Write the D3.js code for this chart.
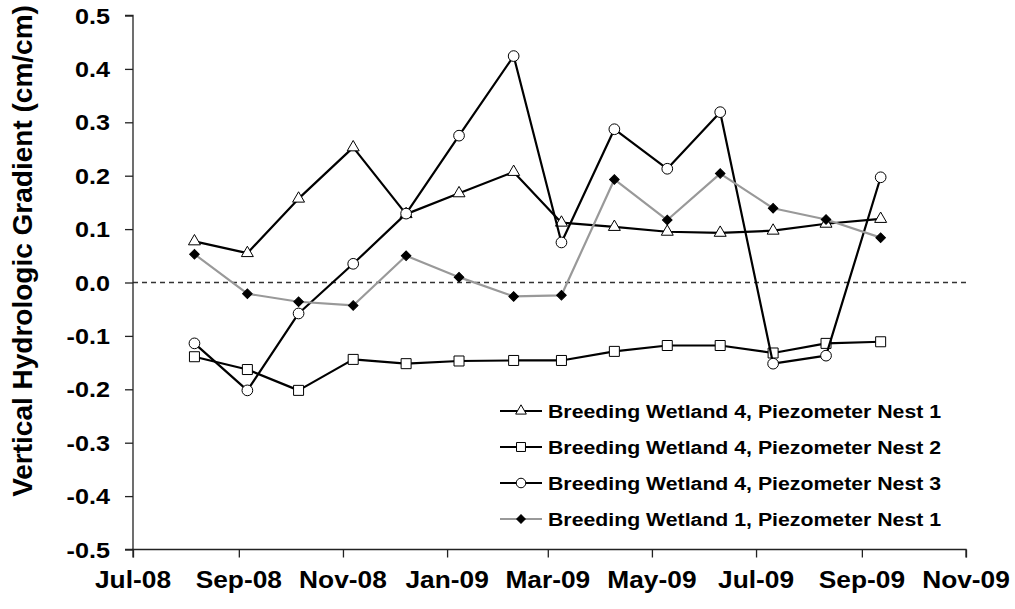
<!DOCTYPE html>
<html>
<head>
<meta charset="utf-8">
<script src="https://cdn.jsdelivr.net/npm/d3@7"></script>
<style>
  html, body { margin: 0; padding: 0; background: #fff; }
  text { font-family: "Liberation Sans", Arial, sans-serif; font-weight: bold; fill: #000; }
</style>
</head>
<body>
<div id="chart"></div>
<script>
// ---- data ----
const dates = ["2008-08-06","2008-09-06","2008-10-06","2008-11-07","2008-12-08","2009-01-08","2009-02-09",
               "2009-03-09","2009-04-09","2009-05-10","2009-06-10","2009-07-11","2009-08-11","2009-09-12"];
const bw4Nest1 = [0.077, 0.055, 0.157, 0.253, 0.128, 0.167, 0.207, 0.112, 0.104, 0.095, 0.093, 0.097, 0.110, 0.119];
const bw4Nest2 = [-0.139, -0.163, -0.202, -0.144, -0.152, -0.147, -0.146, -0.146, -0.129, -0.118, -0.118, -0.132, -0.114, -0.111];
const bw4Nest3 = [-0.114, -0.202, -0.058, 0.035, 0.129, 0.275, 0.424, 0.075, 0.287, 0.213, 0.319, -0.152, -0.137, 0.197];
const bw1Nest1 = [0.053, -0.021, -0.036, -0.043, 0.050, 0.010, -0.026, -0.024, 0.193, 0.117, 0.204, 0.139, 0.118, 0.084];
const seriesNames = ["Breeding Wetland 4, Piezometer Nest 1", "Breeding Wetland 4, Piezometer Nest 2",
                     "Breeding Wetland 4, Piezometer Nest 3", "Breeding Wetland 1, Piezometer Nest 1"];
const yTicks = [0.5, 0.4, 0.3, 0.2, 0.1, 0.0, -0.1, -0.2, -0.3, -0.4, -0.5];
const xDomain = ["2008-07-01", "2009-11-01"];
const yTitle = "Vertical Hydrologic Gradient (cm/cm)";

const width = 1015, height = 609;
const sx = 1.12; // reference text is a bit wide

const parse = d3.timeParse("%Y-%m-%d");
const x = d3.scaleTime().domain(xDomain.map(parse)).range([133, 966]);
const y = d3.scaleLinear().domain([-0.5, 0.5]).range([549.5, 15.5]);
const fmtY = d => d3.format(".1f")(d).replace("\u2212", "-");

const svg = d3.select("#chart").append("svg")
  .attr("width", width).attr("height", height);

// zero line
svg.append("line")
  .attr("x1", x.range()[0]).attr("x2", x.range()[1])
  .attr("y1", y(0)).attr("y2", y(0))
  .attr("stroke", "#333").attr("stroke-width", 1.5).attr("stroke-dasharray", "5,4");

// y axis
const yAxis = svg.append("g").attr("transform", `translate(${x.range()[0]},0)`)
  .call(d3.axisLeft(y).tickValues(yTicks).tickSize(8).tickFormat(""));
yAxis.selectAll("path, line").attr("stroke", "#222").attr("stroke-width", 1.3);
yAxis.select(".domain").attr("d", `M-8,${y(0.5)}H0V${y(-0.5)}H-8`);

svg.append("g").selectAll("text").data(yTicks).join("text")
  .attr("transform", d => `translate(110,${y(d) + 8}) scale(${sx},1)`)
  .attr("text-anchor", "end").attr("font-size", 22.5)
  .text(fmtY);

// x axis
const xTicks = x.ticks(d3.timeMonth.every(2));
const xAxis = svg.append("g").attr("transform", `translate(0,${y(-0.5)})`)
  .call(d3.axisBottom(x).tickValues(xTicks).tickSize(8).tickFormat(""));
xAxis.selectAll("path, line").attr("stroke", "#222").attr("stroke-width", 1.3);
xAxis.select(".domain").attr("d", `M${x.range()[0]},8V0H${x.range()[1]}V8`);

svg.append("g").selectAll("text").data(xTicks).join("text")
  .attr("transform", d => `translate(${x(d)},588) scale(${sx},1)`)
  .attr("text-anchor", "middle").attr("font-size", 23.5)
  .text(d => d3.timeFormat("%b-%y")(d));

// y title
svg.append("text")
  .attr("transform", "translate(32,251) rotate(-90)")
  .attr("text-anchor", "middle").attr("font-size", 28)
  .text(yTitle);

// series
const series = [
  { name: seriesNames[0], values: bw4Nest1, line: "#000", shape: d3.symbolTriangle, size: 62, fill: "#fff", rot: 0 },
  { name: seriesNames[1], values: bw4Nest2, line: "#000", shape: d3.symbolSquare, size: 100, fill: "#fff", rot: 0 },
  { name: seriesNames[2], values: bw4Nest3, line: "#000", shape: d3.symbolCircle, size: 90, fill: "#fff", rot: 0 },
  { name: seriesNames[3], values: bw1Nest1, line: "#999", shape: d3.symbolSquare, size: 46, fill: "#000", rot: 45 }
];

const line = d3.line().x(d => x(d[0])).y(d => y(d[1]));

series.forEach(s => {
  const pts = dates.map((d, i) => [parse(d), s.values[i]]);
  const g = svg.append("g");
  g.append("path").attr("d", line(pts))
    .attr("fill", "none").attr("stroke", s.line).attr("stroke-width", 2.2)
    .attr("stroke-linejoin", "round");
  g.selectAll("path.m").data(pts).join("path").attr("class", "m")
    .attr("d", d3.symbol().type(s.shape).size(s.size))
    .attr("transform", d => `translate(${x(d[0])},${y(d[1])}) rotate(${s.rot})`)
    .attr("fill", s.fill).attr("stroke", "#000").attr("stroke-width", 1);
});

// legend
const legend = svg.append("g");
series.forEach((s, i) => {
  const ly = 411 + i * 36;
  legend.append("line").attr("x1", 500).attr("x2", 542).attr("y1", ly).attr("y2", ly)
    .attr("stroke", s.line).attr("stroke-width", 2.2);
  legend.append("path")
    .attr("d", d3.symbol().type(s.shape).size(s.size * 0.8))
    .attr("transform", `translate(521,${ly}) rotate(${s.rot})`)
    .attr("fill", s.fill).attr("stroke", "#000").attr("stroke-width", 1);
  legend.append("text")
    .attr("transform", `translate(548,${ly + 7}) scale(${sx},1)`)
    .attr("font-size", 19)
    .text(s.name);
});
</script>
</body>
</html>
